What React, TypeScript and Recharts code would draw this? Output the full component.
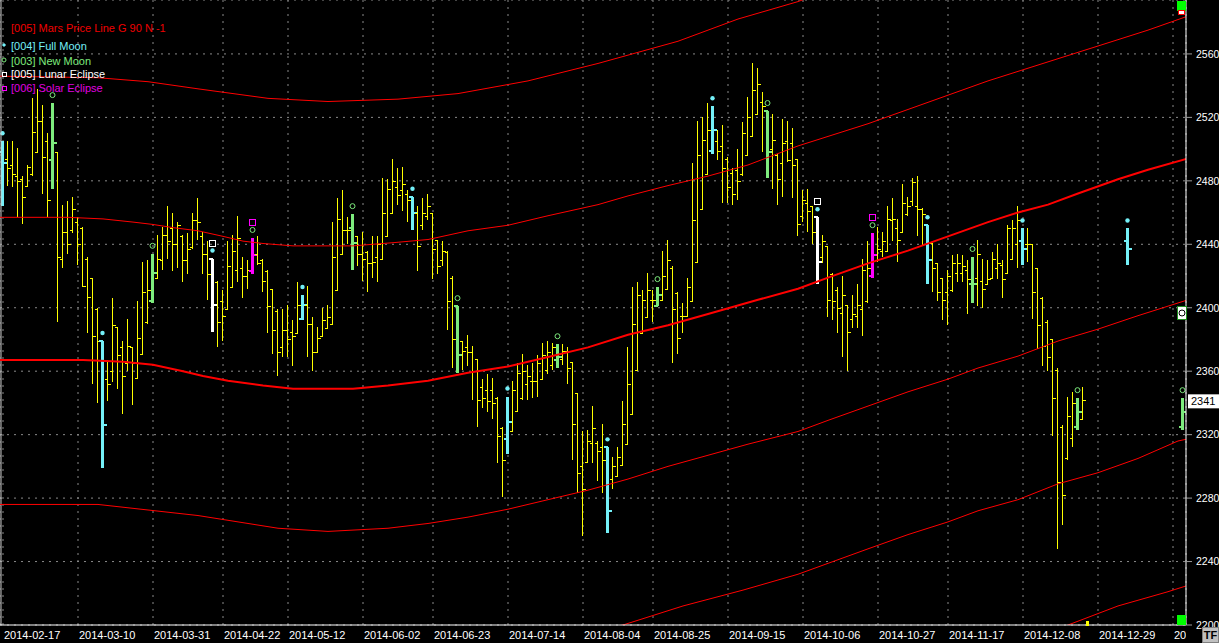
import React from 'react';
import { ComposedChart, Bar, Line, XAxis, YAxis, CartesianGrid, ReferenceLine } from 'recharts';

const W = 1219;
const H = 643;
const FONT = '"Liberation Sans", Arial, sans-serif';

// ---- trading sessions (x index) ----
const sessionIdx: number[] = [...Array.from({ length: 217 }, (_, k) => k), 225, 236];

const opens = [
  2498, 2494, 2490, 2483, 2481, 2477, 2484, 2498, 2518, 2505,
  2493, 2498, 2431, 2448, 2449, 2454, 2450, 2431, 2419, 2399,
  2379, 2355, 2360, 2388, 2375, 2365, 2375, 2356, 2371, 2391,
  2404, 2419, 2430, 2446, 2450, 2440, 2445, 2430, 2438, 2455,
  2445, 2434, 2431, 2416, 2404, 2399, 2413, 2424, 2425, 2420,
  2423, 2434, 2430, 2423, 2412, 2398, 2375, 2386, 2385, 2384,
  2393, 2402, 2390, 2372, 2382, 2387, 2390, 2411, 2434, 2449,
  2450, 2445, 2434, 2435, 2428, 2432, 2431, 2445, 2460, 2476,
  2474, 2472, 2470, 2460, 2452, 2458, 2460, 2443, 2430, 2435,
  2419, 2401, 2379, 2375, 2372, 2368, 2350, 2348, 2348, 2343,
  2324, 2317, 2322, 2335, 2343, 2352, 2354, 2354, 2355, 2361,
  2364, 2367, 2368, 2373, 2366, 2346, 2300, 2303, 2315, 2315,
  2312, 2312, 2292, 2294, 2301, 2314, 2333, 2361, 2384, 2394,
  2405, 2401, 2405, 2412, 2425, 2409, 2395, 2395, 2404, 2429,
  2462, 2484, 2499, 2505, 2502, 2494, 2485, 2487, 2484, 2496,
  2508, 2522, 2530, 2524, 2500, 2496, 2491, 2505, 2504, 2494,
  2458, 2466, 2464, 2457, 2432, 2439, 2421, 2411, 2397, 2402,
  2393, 2395, 2399, 2404, 2420, 2430, 2436, 2436, 2455, 2450,
  2448, 2459, 2467, 2464, 2462, 2452, 2441, 2428, 2419, 2410,
  2411, 2422, 2422, 2424, 2415, 2419, 2417, 2415, 2419, 2425,
  2427, 2422, 2431, 2440, 2442, 2440, 2440, 2425, 2406, 2391,
  2380, 2361, 2325, 2305, 2318, 2325, 2330,
  2442, 2325,
];

const highs = [
  2505, 2505, 2505, 2501, 2483, 2490, 2532, 2538, 2528, 2510,
  2529, 2498, 2465, 2467, 2470, 2457, 2451, 2432, 2419, 2400,
  2379, 2367, 2406, 2388, 2379, 2393, 2375, 2404, 2429, 2430,
  2434, 2446, 2451, 2464, 2460, 2454, 2446, 2447, 2460, 2469,
  2448, 2442, 2431, 2417, 2411, 2442, 2446, 2458, 2432, 2430,
  2444, 2445, 2431, 2424, 2412, 2399, 2399, 2402, 2392, 2416,
  2408, 2414, 2394, 2388, 2400, 2402, 2454, 2469, 2474, 2457,
  2459, 2445, 2448, 2436, 2445, 2445, 2482, 2481, 2494, 2488,
  2489, 2474, 2470, 2464, 2469, 2472, 2460, 2443, 2442, 2436,
  2420, 2401, 2379, 2383, 2376, 2368, 2355, 2358, 2356, 2344,
  2325, 2344, 2354, 2365, 2371, 2364, 2365, 2370, 2378, 2379,
  2378, 2377, 2377, 2375, 2366, 2346, 2322, 2323, 2338, 2316,
  2327, 2312, 2306, 2312, 2341, 2375, 2413, 2416, 2411, 2422,
  2411, 2413, 2436, 2443, 2426, 2410, 2403, 2419, 2491, 2518,
  2520, 2529, 2527, 2512, 2515, 2495, 2488, 2500, 2517, 2533,
  2554, 2551, 2536, 2524, 2522, 2497, 2519, 2518, 2513, 2494,
  2474, 2475, 2464, 2457, 2446, 2439, 2422, 2413, 2420, 2402,
  2408, 2415, 2431, 2442, 2447, 2451, 2448, 2464, 2469, 2456,
  2478, 2470, 2482, 2483, 2463, 2452, 2441, 2428, 2419, 2424,
  2433, 2434, 2433, 2430, 2432, 2443, 2431, 2430, 2435, 2440,
  2430, 2452, 2455, 2464, 2450, 2450, 2440, 2425, 2407, 2392,
  2380, 2362, 2326, 2344, 2347, 2343, 2350,
  2450, 2343,
];

const lows = [
  2464, 2477, 2476, 2457, 2453, 2476, 2483, 2498, 2472, 2457,
  2475, 2391, 2425, 2434, 2447, 2427, 2413, 2384, 2352, 2340,
  2299, 2341, 2353, 2349, 2333, 2360, 2339, 2356, 2371, 2390,
  2403, 2418, 2424, 2431, 2423, 2425, 2416, 2421, 2437, 2443,
  2421, 2405, 2385, 2375, 2379, 2399, 2413, 2416, 2406, 2412,
  2421, 2427, 2410, 2384, 2371, 2357, 2369, 2369, 2363, 2384,
  2392, 2369, 2360, 2372, 2382, 2387, 2390, 2411, 2434, 2440,
  2424, 2426, 2417, 2410, 2419, 2416, 2431, 2445, 2459, 2465,
  2461, 2454, 2449, 2423, 2449, 2455, 2418, 2421, 2426, 2386,
  2362, 2359, 2361, 2363, 2342, 2325, 2337, 2334, 2330, 2302,
  2281, 2308, 2322, 2334, 2342, 2342, 2343, 2344, 2355, 2358,
  2361, 2362, 2364, 2352, 2304, 2283, 2256, 2302, 2302, 2291,
  2283, 2258, 2286, 2293, 2301, 2314, 2333, 2361, 2384, 2394,
  2391, 2401, 2405, 2412, 2365, 2371, 2384, 2395, 2404, 2429,
  2462, 2484, 2497, 2493, 2466, 2466, 2465, 2468, 2483, 2496,
  2508, 2522, 2498, 2482, 2475, 2465, 2470, 2492, 2469, 2445,
  2454, 2448, 2440, 2415, 2428, 2394, 2392, 2384, 2369, 2360,
  2387, 2387, 2382, 2403, 2419, 2429, 2432, 2436, 2442, 2429,
  2448, 2458, 2464, 2445, 2439, 2415, 2410, 2404, 2392, 2389,
  2410, 2416, 2416, 2396, 2403, 2401, 2400, 2415, 2418, 2418,
  2406, 2422, 2431, 2425, 2427, 2429, 2393, 2374, 2363, 2360,
  2319, 2248, 2263, 2304, 2312, 2323, 2330,
  2427, 2323,
];

const closes = [
  2491, 2488, 2484, 2480, 2470, 2489, 2511, 2518, 2495, 2468,
  2504, 2432, 2448, 2440, 2462, 2440, 2414, 2407, 2382, 2379,
  2326, 2352, 2389, 2370, 2357, 2376, 2365, 2381, 2410, 2411,
  2422, 2431, 2446, 2442, 2440, 2452, 2430, 2437, 2455, 2454,
  2434, 2421, 2402, 2391, 2395, 2426, 2436, 2444, 2420, 2424,
  2433, 2428, 2417, 2401, 2386, 2372, 2386, 2380, 2382, 2402,
  2402, 2390, 2372, 2381, 2392, 2394, 2432, 2456, 2449, 2449,
  2441, 2434, 2431, 2428, 2429, 2440, 2460, 2475, 2480, 2471,
  2478, 2468, 2460, 2439, 2460, 2464, 2437, 2426, 2436, 2404,
  2380, 2370, 2373, 2372, 2360, 2342, 2343, 2341, 2340, 2319,
  2304, 2328, 2348, 2359, 2360, 2357, 2354, 2365, 2370, 2372,
  2375, 2369, 2373, 2362, 2327, 2296, 2286, 2316, 2324, 2310,
  2304, 2272, 2300, 2306, 2327, 2352, 2390, 2408, 2405, 2411,
  2405, 2408, 2420, 2430, 2399, 2381, 2395, 2413, 2455, 2496,
  2506, 2512, 2512, 2499, 2488, 2476, 2472, 2480, 2510, 2520,
  2537, 2541, 2527, 2498, 2506, 2481, 2504, 2493, 2490, 2453,
  2468, 2461, 2448, 2429, 2442, 2405, 2404, 2400, 2408, 2385,
  2396, 2402, 2424, 2425, 2433, 2437, 2442, 2456, 2456, 2443,
  2466, 2464, 2479, 2462, 2459, 2430, 2425, 2410, 2405, 2420,
  2428, 2428, 2426, 2418, 2415, 2434, 2412, 2418, 2431, 2428,
  2418, 2450, 2450, 2455, 2437, 2440, 2410, 2389, 2376, 2369,
  2343, 2290, 2282, 2332, 2340, 2334, 2342,
  2437, 2334,
];

// ---- moon / eclipse sessions ----
const fullMoonIdx = [0, 20, 60, 82, 101, 121, 142, 185, 204, 225];
const newMoonIdx = [10, 30, 70, 91, 111, 131, 153, 194, 215, 236];
const lunarEclipseIdx = [42, 163];
const solarEclipseIdx = [50, 174];

// ---- axes ----
const tickIdx = [0, 15, 30, 44, 57, 72, 86, 101, 116, 130, 145, 160, 175, 189, 204, 219, 234];
const tickLabels = [
  '2014-02-17', '2014-03-10', '2014-03-31', '2014-04-22', '2014-05-12', '2014-06-02',
  '2014-06-23', '2014-07-14', '2014-08-04', '2014-08-25', '2014-09-15', '2014-10-06',
  '2014-10-27', '2014-11-17', '2014-12-08', '2014-12-29', '2015-01-19',
];
const priceTicks = [2200, 2240, 2280, 2320, 2360, 2400, 2440, 2480, 2520, 2560];
const lastPrice = 2341;

// ---- Mars price lines [session index, price] ----
const marsMain: [number, number][] = [
  [-1, 2367], [16, 2367], [24, 2366], [30, 2364], [36, 2360], [40, 2357], [45, 2354], [52, 2351],
  [58, 2349], [70, 2349], [77, 2351], [85, 2354], [93, 2359], [101, 2363], [109, 2369], [117, 2375],
  [125, 2383], [133, 2389], [141, 2396], [151, 2405], [159, 2412], [165, 2419], [173, 2428], [181, 2436],
  [189, 2445], [197, 2454], [203, 2460], [209, 2465], [215, 2472], [223, 2481], [229, 2487], [238, 2495],
];
const marsUp1: [number, number][] = [
  [-1, 2457], [13, 2457], [20, 2456], [26, 2454], [30, 2452.5], [34, 2450.5], [39, 2448.5], [44, 2445],
  [48, 2442], [52, 2440.5], [58, 2439], [70, 2439], [78, 2441], [85, 2443], [93, 2448.5], [101, 2452],
  [109, 2458], [119, 2465], [125, 2470.5], [133, 2477], [141, 2483], [149, 2490], [159, 2502], [165, 2508],
  [173, 2516], [181, 2525], [189, 2534], [197, 2543], [205, 2551], [213, 2559], [221, 2567], [229, 2575], [238, 2585],
];
const marsUp2: [number, number][] = [
  [-1, 2546], [19, 2545], [29, 2542.5], [39, 2538], [53, 2532], [65, 2530], [79, 2531.5], [91, 2535],
  [105, 2543], [119, 2554], [135, 2568], [147, 2582], [159, 2593], [171, 2607],
];
const marsDown1: [number, number][] = [
  [-1, 2276], [19, 2276], [39, 2269], [55, 2261], [65, 2259], [77, 2261], [85, 2264], [93, 2268],
  [101, 2273], [109, 2279], [117, 2285], [125, 2292], [133, 2300], [141, 2307], [149, 2314], [159, 2322],
  [165, 2329], [173, 2338], [181, 2347], [189, 2355], [195, 2362], [203, 2369.5], [211, 2379], [219, 2386.5],
  [227, 2395], [235, 2403], [238, 2406],
];
const marsDown2: [number, number][] = [
  [110, 2190], [124, 2200], [136, 2212], [148, 2222], [159, 2232], [173, 2248], [181, 2257], [189, 2265],
  [195, 2272], [203, 2279], [211, 2289], [219, 2296], [227, 2305], [235, 2316], [238, 2318],
];
const marsDown3: [number, number][] = [
  [200, 2185], [213, 2200], [223, 2212], [233, 2221], [238, 2226],
];

const COLORS: Record<string, string> = {
  plain: '#ffff00',
  full: '#74f0f8',
  new: '#7deb7d',
  lunar: '#ffffff',
  solar: '#ff00ff',
};

const kindOf = (idx: number) =>
  lunarEclipseIdx.includes(idx) ? 'lunar'
    : solarEclipseIdx.includes(idx) ? 'solar'
      : fullMoonIdx.includes(idx) ? 'full'
        : newMoonIdx.includes(idx) ? 'new' : 'plain';

const bars = sessionIdx.map((idx, k) => ({
  i: idx,
  o: opens[k],
  h: highs[k],
  l: lows[k],
  c: closes[k],
  range: [lows[k], highs[k]],
  kind: kindOf(idx),
}));

const toLine = (pts: [number, number][]) => pts.map(([i, v]) => ({ i, v }));

function OhlcShape(props: any) {
  const { x, y, width, height, payload } = props;
  if (!payload || x == null || y == null || height == null) return null;
  const { o, h, l, c, kind } = payload;
  const cx = Math.floor(x + width / 2) + 0.5;
  const span = h - l || 1;
  const py = (v: number) => y + ((h - v) / span) * height;
  const color = COLORS[kind];
  const thick = kind !== 'plain';
  const top = y;
  const bottom = y + height;
  const tl = thick ? 4 : 3;
  const tw = thick ? 2 : 1;
  const oy = thick ? Math.round(py(o)) : Math.round(py(o)) + 0.5;
  const cy = thick ? Math.round(py(c)) : Math.round(py(c)) + 0.5;
  const markers: React.ReactNode[] = [];
  if (kind === 'full' || kind === 'lunar') {
    markers.push(<circle key="m" cx={cx} cy={top - 8} r={2.2} fill={COLORS.full} />);
  }
  if (kind === 'new' || kind === 'solar') {
    markers.push(<circle key="m" cx={cx} cy={top - 8} r={2.5} fill="none" stroke={COLORS.new} strokeWidth={1} />);
  }
  if (kind === 'lunar' || kind === 'solar') {
    markers.push(
      <rect key="e" x={cx - 3} y={Math.round(top - 19) + 0.5} width={6} height={6} fill="none"
        stroke={COLORS[kind]} strokeWidth={1} />,
    );
  }
  return (
    <g>
      <g shapeRendering="crispEdges">
        <line x1={cx} x2={cx} y1={top} y2={bottom} stroke={color} strokeWidth={thick ? 3 : 1} />
        <line x1={cx - tl} x2={cx} y1={oy} y2={oy} stroke={color} strokeWidth={tw} />
        <line x1={cx} x2={cx + tl} y1={cy} y2={cy} stroke={color} strokeWidth={tw} />
      </g>
      {markers}
    </g>
  );
}

function DateTick(props: any) {
  const { x, y, payload, index } = props;
  const k = tickIdx.indexOf(payload.value);
  const label = k >= 0 ? tickLabels[k] : '';
  const id = `xclip-${index}`;
  return (
    <g>
      <defs>
        <clipPath id={id}>
          <rect x={0} y={0} width={1186} height={H} />
        </clipPath>
      </defs>
      <text x={x + 1} y={y} dy="0.71em" textAnchor="start" fill="#ffffff" fontSize={11}
        fontFamily={FONT} clipPath={`url(#${id})`}>
        {label}
      </text>
    </g>
  );
}

function PriceTick(props: any) {
  const { x, y, payload } = props;
  return (
    <text x={x} y={y} dy="0.36em" textAnchor="start" fill="#ffffff" fontSize={10.5} fontFamily={FONT}>
      {payload.value}
    </text>
  );
}

function LastPriceLabel(props: any) {
  const vb = props.viewBox || {};
  const x0 = (vb.x || 0) + (vb.width || 0) + 2;
  const y0 = vb.y || 0;
  return (
    <g>
      <rect x={x0} y={y0 - 7} width={W - x0} height={14} fill="#ffffff" />
      <text x={x0 + 3} y={y0} dy="0.36em" fill="#000000" fontSize={11} fontFamily={FONT}>
        {lastPrice}
      </text>
    </g>
  );
}

export default function App() {
  return (
    <div style={{ position: 'absolute', left: 0, top: 0, width: W, height: H, background: '#000000', fontFamily: FONT }}>
      <ComposedChart width={W} height={H} data={bars} margin={{ top: 0, right: 0, bottom: 0, left: 0 }}>
        <CartesianGrid stroke="#8a8a8a" strokeDasharray="2 5" />
        <XAxis
          dataKey="i"
          type="number"
          domain={[-0.6, 236.6]}
          allowDataOverflow
          ticks={tickIdx}
          interval={0}
          height={18}
          axisLine={{ stroke: '#ffffff', strokeWidth: 1 }}
          tickLine={false}
          tickSize={0}
          tickMargin={6}
          tick={<DateTick />}
        />
        <YAxis
          orientation="right"
          type="number"
          domain={[2200, 2594]}
          allowDataOverflow
          ticks={priceTicks}
          interval={0}
          width={33}
          axisLine={{ stroke: '#ffffff', strokeWidth: 1 }}
          tickLine={{ stroke: '#9a9a9a' }}
          tickSize={6}
          tickMargin={4}
          tick={<PriceTick />}
        />
        <ReferenceLine x={-0.4} stroke="#d0d0d0" strokeWidth={1} />
        <Line data={toLine(marsUp2)} dataKey="v" type="linear" stroke="#ff0000" strokeWidth={1} dot={false} activeDot={false} isAnimationActive={false} />
        <Line data={toLine(marsUp1)} dataKey="v" type="linear" stroke="#ff0000" strokeWidth={1} dot={false} activeDot={false} isAnimationActive={false} />
        <Line data={toLine(marsMain)} dataKey="v" type="linear" stroke="#ff0000" strokeWidth={2} dot={false} activeDot={false} isAnimationActive={false} />
        <Line data={toLine(marsDown1)} dataKey="v" type="linear" stroke="#ff0000" strokeWidth={1} dot={false} activeDot={false} isAnimationActive={false} />
        <Line data={toLine(marsDown2)} dataKey="v" type="linear" stroke="#ff0000" strokeWidth={1} dot={false} activeDot={false} isAnimationActive={false} />
        <Line data={toLine(marsDown3)} dataKey="v" type="linear" stroke="#ff0000" strokeWidth={1} dot={false} activeDot={false} isAnimationActive={false} />
        <Bar dataKey="range" barSize={5} shape={<OhlcShape />} isAnimationActive={false} />
        <ReferenceLine y={lastPrice} stroke="none" ifOverflow="visible" label={<LastPriceLabel />} />
      </ComposedChart>

      <svg width={W} height={H} style={{ position: 'absolute', left: 0, top: 0, pointerEvents: 'none' }}>
        <g fontFamily={FONT} fontSize={11}>
          <text x={11} y={31.5} fill="#f00000">[005] Mars Price Line G 90 N -1</text>
          <rect x={2.5} y={43.5} width={3} height={3} fill={COLORS.full} transform="rotate(45 4 45)" />
          <text x={11} y={49.5} fill={COLORS.full}>[004] Full Moon</text>
          <circle cx={4} cy={60} r={2} fill="none" stroke={COLORS.new} />
          <text x={11} y={64.5} fill={COLORS.new}>[003] New Moon</text>
          <rect x={2.5} y={72.5} width={4} height={4} fill="none" stroke="#ffffff" />
          <text x={11} y={78} fill="#ffffff">[005] Lunar Eclipse</text>
          <rect x={2.5} y={86.5} width={4} height={4} fill="none" stroke="#ff00ff" />
          <text x={11} y={92} fill="#e000e0">[006] Solar Eclipse</text>
        </g>
        <rect x={1177} y={1} width={9} height={10} fill="#00ff00" />
        <rect x={1178.5} y={10.5} width={6} height={4} fill="#ffffff" stroke="#ff0000" />
        <rect x={1177} y={615} width={9} height={10} fill="#00ff00" />
        <rect x={1177.5} y={306.5} width={9} height={13} fill="#ffffff" stroke="#1f8f1f" />
        <circle cx={1182} cy={313} r={3} fill="#ffffff" stroke="#000000" />
        <rect x={1086} y={621} width={3} height={5} fill="#ffff00" />
        <rect x={1202.5} y={627.5} width={16} height={15} fill="#c0c0c0" stroke="#808080" />
        <text x={1210.5} y={639} textAnchor="middle" fontFamily={FONT} fontSize={11} fontWeight="bold" fill="#000000">TF</text>
      </svg>
    </div>
  );
}
